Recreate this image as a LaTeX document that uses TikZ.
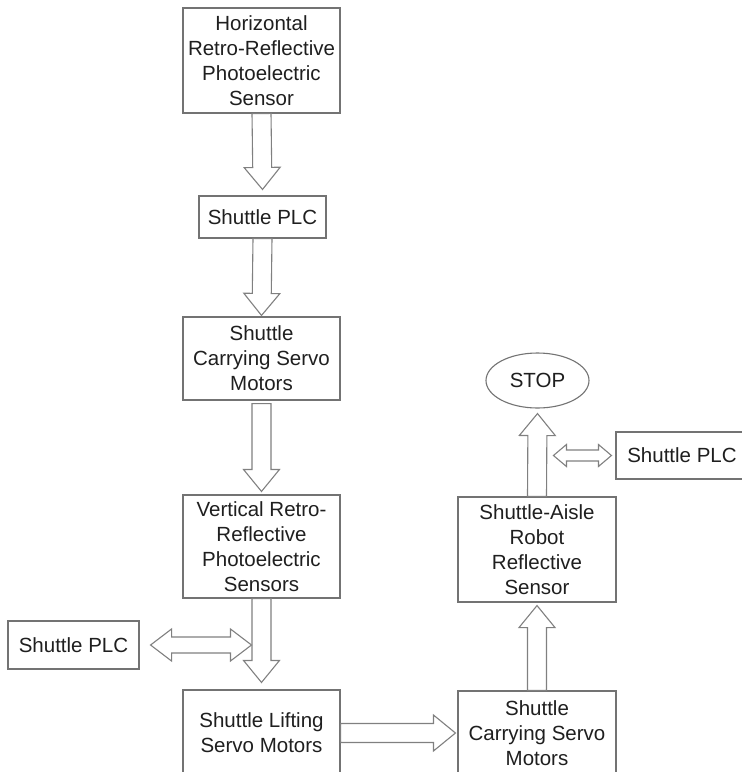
\documentclass[tikz,border=0pt]{standalone}
\usepackage{fontspec}
\setmainfont{Liberation Sans}
\usetikzlibrary{calc,shapes.geometric}
\tikzset{
  blok/.style={draw=black!55,line width=1.1pt,fill=white,text=black!88,align=center,
    inner sep=0pt,minimum width=157pt},
  hollow/.style={draw=black!50,line width=1.1pt,fill=white,line join=miter},
}
% hollow arrow from #1 to #2
\newcommand\onearrow[2]{%
  \draw[hollow] let \p1=(#1),\p2=(#2),\n1={atan2(\y2-\y1,\x2-\x1)},\n2={veclen(\x2-\x1,\y2-\y1)} in
    [shift={(\p1)},rotate=\n1]
    (0pt,-9.5pt) -- (\n2-22pt,-9.5pt) -- (\n2-22pt,-18pt) -- (\n2,0pt)
    -- (\n2-22pt,18pt) -- (\n2-22pt,9.5pt) -- (0pt,9.5pt) -- cycle;}
% hollow double arrow: from, to, shaft, head, head length
\newcommand\twoarrow[5]{%
  \draw[hollow] let \p1=(#1),\p2=(#2),\n1={atan2(\y2-\y1,\x2-\x1)},\n2={veclen(\x2-\x1,\y2-\y1)} in
    [shift={(\p1)},rotate=\n1]
    (0pt,0pt) -- (#5pt,-#4pt) -- (#5pt,-#3pt) -- (\n2-#5pt,-#3pt) -- (\n2-#5pt,-#4pt) -- (\n2,0pt)
    -- (\n2-#5pt,#4pt) -- (\n2-#5pt,#3pt) -- (#5pt,#3pt) -- (#5pt,#4pt) -- cycle;}
\begin{document}
\begin{tikzpicture}[x=1pt,y=-1pt,font=\fontsize{20.5}{25}\selectfont]
\clip (0,0) rectangle (742,772);
% main column
\node[blok,minimum height=105pt] (hsens) at (261.5,60.5) {Horizontal\\Retro-Reflective\\Photoelectric\\Sensor};
\node[blok,minimum width=127pt,minimum height=42pt] (plcA) at (262.5,217) {Shuttle PLC};
\node[blok,minimum height=83pt] (carryA) at (261.5,358.5) {Shuttle\\Carrying Servo\\Motors};
\node[blok,minimum height=103pt] (vsens) at (261.5,546.5) {Vertical Retro-\\Reflective\\Photoelectric\\Sensors};
\node[blok,minimum height=86pt] (lift) at (261.5,733) {Shuttle Lifting\\Servo Motors};
\node[blok,minimum width=131pt,minimum height=48pt] (plcL) at (73.5,645) {Shuttle PLC};
% right column
\node[blok,minimum width=158pt,minimum height=84pt] (carryB) at (537,733) {Shuttle\\Carrying Servo\\Motors};
\node[blok,minimum width=158pt,minimum height=105pt] (aisle) at (537,549.5) {Shuttle-Aisle\\Robot\\Reflective\\Sensor};
\node[blok,ellipse,minimum width=103pt,minimum height=55pt] (stop) at (537.5,380.5) {STOP};
\node[blok,minimum width=132pt,minimum height=47pt] (plcR) at (682,455.5) {Shuttle PLC};
\coordinate (jl) at ($(plcL.east -| vsens.south)+(-10,0)$);
% arrows
\onearrow{hsens.south}{$(plcA.north)+(0,-6)$}
\onearrow{plcA.south}{$(carryA.north)+(0,-1)$}
\onearrow{$(carryA.south)+(0,3)$}{$(vsens.north)+(0,-3)$}
\onearrow{vsens.south}{$(lift.north)+(0,-7)$}
\onearrow{lift.east}{$(carryB.west)+(-2,0)$}
\onearrow{carryB.north}{$(aisle.south)+(0,3)$}
\onearrow{aisle.north}{$(stop.south)+(0,5)$}
\twoarrow{$(plcL.east)+(11,0)$}{jl}{8}{16}{21}
\twoarrow{$(plcR.west)+(-62,0)$}{$(plcR.west)+(-4,0)$}{5.5}{11}{13}
\end{tikzpicture}
\end{document}
